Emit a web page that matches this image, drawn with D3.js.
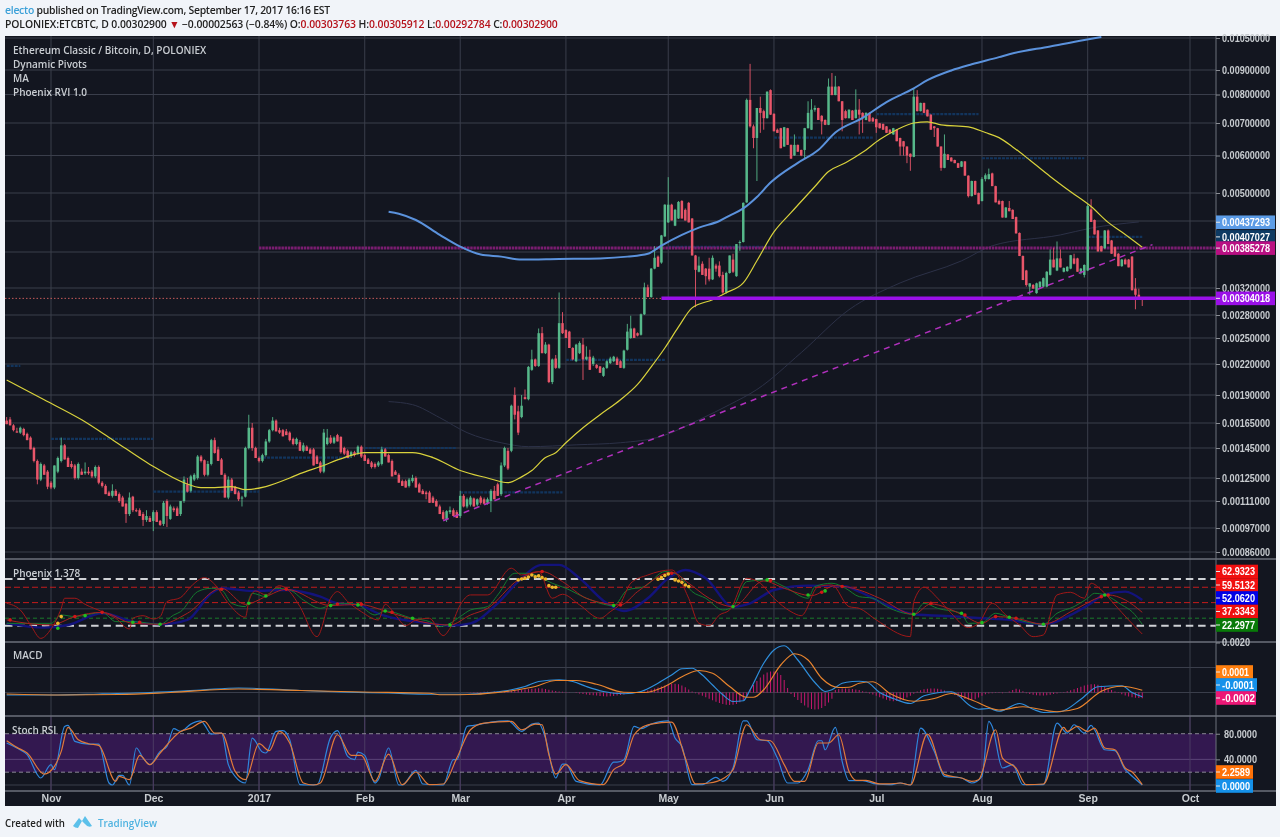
<!DOCTYPE html>
<html><head><meta charset="utf-8">
<script src="https://cdn.jsdelivr.net/npm/d3@7/dist/d3.min.js"></script>
<style>
html,body{margin:0;padding:0;background:#f1f4f9;overflow:hidden}
svg{display:block;filter:blur(0.35px)}
text{font-family:"Liberation Sans",Arial,sans-serif}
.ui{font-family:"Open Sans",sans-serif;font-weight:600}
</style></head><body><svg id="c" width="1280" height="837"></svg>
<script>
// ---------- DATA (prices in units of 0.00001 BTC; day numbers count from firstDay) ----------
const opens=[167,168,163,158,157,160,156,153,145,136,
124,133,129,122,119,129,136,147,138,134,
133,125,129,128,129,129,126,132,122,120,
116,114,117,115,113,109.5,104,113.5,106,106,
104,101,102,100.5,105,100.5,99,111,101.5,107,
107,104,111,121,117,124,125,139,136.5,127,
134,151,144,137,127,113,124,119.5,116,113,
113.5,145,161,145,138,136,140,150,159,167,
159,159,158,157,152,148,149.5,143,146,144,
144,139,135,129,148,153,149,155,153.6,145,
143,139.5,142,141,146,140,137,135,134,133,
134,144,140,136,129,127,123,123,120,123,
125,121,117,116,116,113,111,108,105,101.5,
105,106,105,103,114,108,109,112.5,109,113,
112,110,111,117,121,115,133,143,143,190,
175,170,188,186,214,225,218,256,232,242,
202,226,216,269,260,258,238,223,232,242,
225,228,220,219,217.5,208,216,221,223,226,
223,216,236,250,262,256,254,281,321,306,
350,370,360,408,437,474,430,445,482,463,
478,445,372,345,358,350,350,333,355,355,
340,313,343,365,338,395,397,479,780,689,
652,751,740,716,817,731,678,683,626,683,
631,600,631,616,616,683,678,745,751,724,
710,694,831,798,831,775,740,716,742,716,
745,734,710,734,716,713,699,697,689,678,
663,678,652,642,626,605,596,792,740,769,
745,728,689,683,626,565,603,594,587,578,
568,583,544,493,530,500,482,535,535,550,
517,482,482,447,467,463,448,415,371,347,
322,324.5,312,321,322,322,340,365,347,367,
345,346,350,367,367,345,340,347,464,442,
420,389,385,420,400,387,375,354,365,365,
370,319,309.5,303.763];
const highs=[170,170,164,161,162,161,157,154,146,137,
135,134,130,123,133,139,153,148,139,136,
134,135,131,135,132,130,133,133,123,121,
117,121,118,116,114,110,116,114,107,107,
105,106,103,106,106,101,111,112,109,108,
108,111,126,125,127,128,140,140,137,136,
152,153,146,138,128,126,125,120,117,114,
146,172,165,146,139,141,152,160,170,168,
161,160,160,158,153,153,151,149,147,145,
145,140,136,160,160,155,154,156,154,146,
144,143,143,147,147,141,138,136,135,136,
146,145,141,137,130,128,124,124,125,127,
126,122,118,117,117,114,112,109,106,106,
108,107,106,117,115,113,114,113,112.5,114,
113,113,118,120,122,135,146,145,181,197,
180,190,195,218,236,226,262,264,245,243,
226,230,313,284,261,259,239,243,246,250,
240,236,229,220,218,217,224,228,229,228,
224,236,268,279,263,257,282,328,325,351,
389,372,411,475,540,476,465,482,484,466,
480,446,373,370,362,351,368,372,358,362,
345,345,372,375,393,400,479,785,927,695,
751,792,745,812,820,732,682,684,687,684,
632,663,632,617,684,775,783,760,752,726,
712,864,887,875,833,776,745,746,744,820,
783,736,736,735,720,714,700,698,690,680,
684,679,653,643,627,606,824,817,770,770,
746,729,690,684,627,663,604,595,588,579,
584,584,545,531,531,501,540,550,563,552,
518,485,483,469,482,464,449,416,372,348,
327,326,328,330,336,346,383,386,398,383,
352,354,373,375,368,351,357,475,486,443,
421,390,421,422,401,388,376,366,367,366,
371,335,319,305.912];
const lows=[164,163,158,157,156,154,151,144,135,121,
123,127,118,118,118,128,135,137,132,131,
124,124,127,127,127,125,125,121,119,115,
114,113,114,110,108,99.5,103,105,105,103,
98,100,100,95.5,100,98,98,97.5,101,105,
103,103,110,116,116,123,124,135,126,126,
133,141,136,127,113,112,117,115,111,108,
113,144,143,138,135,135,139,149,158,158,
156,154,155,150,147,147,143,142,143,141,
133,134,128,128,147,148,148,150,141,140,
138,138,139,140,138,136,134,131,131,132,
133,139,135,126,127,122,120,119,119,122,
119,116,115,112,110,110,108,104,101,100,
104,103,102,102,107.5,107,108,108,108,109,
109,109,105,112,114,114,132,130,142,168,
155,169,186,185,213,217,217,232,231,201,
200,215,215,255,250,238,224,222,231,204,
224,214,218,215,211,207,215,220,222,219,
216,215,235,249,250,252,253,280,306,305,
349,353,358,407,436,441,429,444,445,441,
437,372,291,344,340,325,330,332,345,336,
311,311,342,343,337,380,396,478,685,621,
530,668,678,715,727,673,668,621,625,631,
590,599,610,598,591,682,677,738,710,663,
693,693,797,797,775,673,715,715,710,715,
663,668,709,705,704,668,682,678,668,667,
662,642,600,600,578,557,595,739,739,733,
722,678,655,626,557,564,587,583,578,565,
567,544,490,492,496,475,481,529,534,517,
479,474,447,446,460,444,414,371,332,322,
309.5,319,311,320,321,321,339,352,346,352,
344,345,349,357,345,341,336,346,438,412,
379,379,384,393,375,370,354,353,357,352,
316,288,302,292.784];
const closes=[164,163,159,157,161,155,151,144,136,124,
134,127,119.5,119,133,138,147,137,132,132,
125,134,127,129,128,126,132,122,120,115,
114,117,114,111,108,104,113,106,105.5,103,
101,103,100,105,100,98.5,110,103,108,106,
103,111,124,116.5,126,127,139,136,127,134,
151,141.5,136,127,113,124,117,115,112,113,
145,161,145,138,136,140,150,159,167,158,
157,154,155,151,148,152,143,147,143,141,
133,134,129,157,153,149,153,150,142,141,
138,142,140,146,139,136,134,132,132,135,
144,139,135,126,127,122,120,119,124,125,
119,116,115,115,110,110,108,104,101.5,105.5,
106,103,102,114,108,112,113,108,112,110,
109.5,112,117,112,114,133,145,131,180,172,
157,180,186,217,225,218,256,232,242,202,
225,216,269,256,250,238,225,242,244,225,
228,214,227,216,211,216,223,226,228,219,
216,235,258,262,250,253,281,321,306,350,
368,353,410,474,474,441,463,480,445,441,
437,372,348,355,340,338,333,368,350,338,
313,343,372,345,393,397,478,780,689,652,
751,734,716,811,728,673,668,621,686,631,
591,631,611,600,683,734,745,751,710,705,
694,831,798,831,775,710,716,745,710,745,
728,716,734,705,705,686,683,678,668,668,
683,642,626,626,600,596,792,740,769,734,
722,678,683,626,565,605,587,583,578,565,
583,544,493,530,496,475,535,545,548,517,
479,475,447,468,460,444,414,371,332,324.5,
327,319,327,329.5,335,345,365,352,367,352,
351,353,372.5,358,345,350,356,471,438,412,
379,379,420,393,375,370,354,365,357,352,
316.5,309.5,302.5,302.9];

const maYellowDays=[0,11,22,31,42,52,57,61,66,70,76,83,86,92,99,105,119,125,133,141,147,151,154,158,161,164,169,174,180,185,189,193,197,201,207,211,216,220,225,230,237,241,246,251,256,261,266,270,274,282,287,291,295,300,306,312,318,323,327,333];
const maYellow=[204,185.5,167.7,151.4,133.7,122,119,119,119.6,117.7,119.6,125,127.7,132.3,138.3,141.7,141.7,138.3,129.7,125,122,125.7,129.7,138.3,141.7,149,161,172,185.5,199.7,217,238,264,290,302,312.6,327.6,363,417,457,516,555,579,609,647,678,700,704,694,687,669,653,625,587,542,503,470,437,417,387];
const maBlueDays=[112,115,120,127,133,139,145,151,162,174,182,188,192,198,203,209,212,216,220,224,232,238,243,251,258,266,270,277,283,291,294,306,316,321];
const maBlue=[459,455,442,411,388,373.5,370,365,366,367,370,375,390,411,426,440,451,466,491,526,579,616,669,717,772,824,857,898,925,957.5,971,1008,1040,1055];
const maSlowDays=[112,119,127,135,145,153,167,180,192,203,212,220,233,247,262,280,289,309,318,332];
const maSlow=[183.8,181,169.5,157,149,146,147.4,149,154,167.7,181,195,232.7,287.4,327.6,362.8,389.7,411,425,438];

const trendDates=["2017-02-24","2017-09-20"];
const trendValues=[100.6,392];
const pivotStarts=["2016-10-19","2016-11-01","2016-12-01","2017-01-01","2017-02-01","2017-03-01","2017-04-01","2017-05-01","2017-06-01","2017-07-01","2017-08-01","2017-09-01"];
const pivotEnds=["2016-10-23","2016-12-01","2017-01-01","2017-01-28","2017-02-28","2017-03-31","2017-04-30","2017-05-31","2017-06-30","2017-07-31","2017-08-31","2017-09-17"];
const pivotValues=[218,152,116.5,138.3,145,116,224.6,387.6,653,730,592,407.027];
const supportValue=304.018, resistanceValue=385.278;
const supportStart="2017-04-29", resistanceStart="2017-01-01";

const priceTicks=[1050,900,800,700,600,500,440,378,320,280,250,220,190,165,145,125,111,97,86];
const hiddenPriceTicks=[440,378];
const monthTicks=["2016-11-01","2016-12-01","2017-01-01","2017-02-01","2017-03-01","2017-04-01","2017-05-01","2017-06-01","2017-07-01","2017-08-01","2017-09-01","2017-10-01"];
const monthLabels=["Nov","Dec","2017","Feb","Mar","Apr","May","Jun","Jul","Aug","Sep","Oct"];
const mainBadgeValues=[437.293,407.027,385.278,304.018];
const mainBadgeText=["0.00437293","0.00407027","0.00385278","0.00304018"];
const mainBadgeColor=["#5b9be6","#0d3a63","#b80f82","#9a10e8"];

const phoenixFastDays=[0,4,7,10,13,16,17,20,23,28,32,36,37,40,43,45,47,51,54,58,61,65,70,71,73,76,80,83,86,91,95,97,100,104,109,111,114,117,120,124,128,130,133,136,141,148,151,156,160,163,168,174,177,180,183,188,195,200,203,206,209,212,217,221,225,230,233,238,242,247,250,255,265,266,269,273,277,282,285,289,293,297,301,304,308,312,316,318,321,325,329,333];
const phoenixFast=[41.8,36,22.9,11.2,19.4,37.4,46.2,46.2,40.9,34.5,28.7,19.4,28.7,31,28.1,30.2,43.3,46.8,56.4,64.2,58.4,41.8,29.6,43.3,52.6,49.1,57.2,52,38.9,12.7,46.2,52,43.3,34.5,27.3,40.9,31.6,22.3,27.3,28.7,13.6,20,40.4,49.1,49.1,72.4,66.5,69.5,46.2,49.7,40.4,28.7,34.5,41.8,59.3,66.5,70.9,46.2,24.3,22.3,31.6,36,63.6,59.3,46.2,34.5,31,56.4,57.8,38.9,37.4,27.3,12.7,43.3,55.8,46.2,33.1,20.6,24.3,41.8,31.6,22.9,12.7,14.2,49.1,51.4,46.2,59.3,53.4,40.4,27.3,15];
const phoenixGreenDays=[0,6,13,16,20,28,32,37,45,49,51,56,60,63,66,70,72,76,79,83,87,92,95,99,103,108,111,119,124,127,130,133,136,141,144,149,153,157,160,164,170,178,182,187,193,197,201,205,210,213,217,223,228,235,237,242,246,250,254,258,266,269,273,280,282,286,290,294,304,308,313,317,319,322,327,330,333];
const phoenixGreen=[24.3,24.3,24.3,31.6,30.2,33.9,25.8,25.8,23.5,31.6,34.5,52,54.9,53.4,41.8,38.9,50.5,47.6,54.9,53.4,44.7,37.4,40.4,41.8,40.4,31.6,35.1,28.7,25.8,21.4,24.3,30.2,36,38.9,49.1,68,68,63.6,59.3,54.9,46.2,39.8,53.4,56.4,69.5,66.5,52,46.2,36,38.9,60.7,62.2,56.4,46.2,56.4,59.3,54.9,47.6,46.2,38.9,32.2,41.8,37.4,33.1,24.3,24.9,33.1,29.6,23.5,33.1,38.9,46.2,50.5,49.1,40.4,34.5,23.5];
const phoenixBlueDays=[0,11,18,28,37,45,53,60,63,72,82,92,97,103,110,124,130,136,144,150,157,162,168,176,181,188,194,199,205,213,218,225,235,246,250,258,266,279,286,294,304,313,318,322,328,333];
const phoenixBlue=[24.3,20.6,22.9,33.1,25.8,23.5,27.3,50.5,54.9,52.6,53.4,47.6,41.8,40.4,31.6,24.3,22.3,24.3,41.8,60.7,75.3,75.3,63.6,41.8,35.1,46.2,63.6,70.9,63.6,38.9,41.8,53.4,57.2,56.4,52,40.4,32.2,30.2,28.7,27.3,23.5,33.1,41.8,49.7,52,44.7];
const phoenixSlowDays=[0,6,13,20,28,37,45,53,63,70,76,82,95,103,113,124,130,136,141,150,157,163,170,180,185,195,200,206,213,222,228,236,243,250,256,266,271,280,286,290,296,304,313,321,323,328,333];
const phoenixSlow=[27.3,24.3,22.9,30.2,33.9,24.3,23.5,33.1,54.9,40.9,47.6,54,39.8,40.9,33.1,24.3,22.9,31.6,37.4,62.2,69.5,60.7,46.2,40.4,52,68.9,59.3,46.2,38.9,61.3,54.9,48.5,57.2,53.4,46.2,32.2,41.2,32.2,24.3,30.2,28.7,23.5,36,47.6,49.1,44.7,33.9];
const dotGreenDays=[15,23,37,45,71,76,95,103,111,119,130,178,213,223,235,240,266,280,286,294,304,322];
const dotGreen=[20,31,25.2,23.5,41.8,48.2,39.8,40.4,35.1,28.7,22.9,39.8,38.9,62.2,49.1,52.6,32.2,33.1,24.9,29.6,23.5,49.1];
const dotRedDays=[1,20,28,39,63,82,97,104,113,157,180,195,224,239,245,271,281,290,296,321,323];
const dotRed=[27.3,30.2,33.9,25.2,54,54,41.2,40.9,34,69.5,40.4,68,61.6,51.4,56.4,41.8,31.6,30.2,28.7,47.6,49.1];
const dotYellowDays=[15,16,150,151,152,153,154,155,156,157,158,159,160,161,191,192,193,194,196,197,198,199,200];
const dotYellow=[24.3,30.2,62.2,63,63.6,64.8,66.5,65,65.7,64.2,63,57.2,55.8,55.8,62.8,64.2,66,67.4,62.2,61.3,60.1,57.8,56.4];
const phoenixLevelsWhite=[63,22.3];
const phoenixLevelsRed=[55.8,42.4];
const phoenixLevelGreen=[28.8];
const phoenixGridLevel=[37];
const phoenixBadgeText=["62.9323","59.5132","52.0620","37.3343","22.2977"];
const phoenixBadgeColor=["#f00f0f","#f00f0f","#0000e6","#f00f0f","#087a08"];

// MACD values in units of 0.0001
const macdDays=[0,13,27,42,57,68,83,98,112,124,129,135,142,148,152,156,162,166,170,175,181,186,191,195,198,201,204,207,210,213,216,218,222,225,228,232,237,240,242,245,248,250,252,256,260,265,269,277,283,285,288,291,297,301,304,309,315,320,327,330,333];
const macd=[-1,-1,-.6,0,1,1.8,1,.2,-.2,-.7,-.7,-.7,0,1.1,2.4,4.4,5.1,4.4,2.4,.4,-.5,.4,3.7,7,9.5,9.7,7,3,-.9,-3.6,-3.3,1.1,11.7,17,18.7,13,4,.4,1.1,3.7,4.4,4.5,4.3,0,-2.4,-4.4,-1.3,.3,-5.7,-6.7,-6.4,-7.5,-4.4,-6.7,-8,-7.7,-2.7,2.3,2.7,0,-1.7];
const signalDays=[0,16,33,48,68,86,104,124,127,138,144,150,155,161,167,173,181,187,193,199,203,207,212,217,219,222,227,231,235,239,244,247,250,254,259,266,272,277,283,291,298,308,314,321,327,333];
const signal=[-.6,-1,-.8,0,1.4,.8,.2,-.3,-.9,-.7,0,1.1,2.4,4.8,4.8,3.3,.1,0,2.4,7,8.8,7.7,2.4,-1.9,-1.9,1.1,11,15.5,13,5.7,2,2.1,3.7,4.3,-.4,-3.5,-2.4,-.4,-3,-7,-5.7,-7.7,-6.4,.5,2.5,.9];
const histFirstDay=135;
const macdHist=[.1,.1,.2,.2,.2,.3,.3,.3,.4,.4,.5,.5,
.6,.7,.8,1,1.1,1.3,1.4,1.5,1.6,1.7,1.6,1.4,1.1,.8,.6,.4,.3,
.2,.1,0,-.2,-.4,-.6,-.8,
-1,-1.1,-1.2,-1.4,-1.5,-1.6,-1.5,-1.4,-1.2,-1,-.8,-.6,-.4,-.2,0,.2,
.4,.8,1.2,1.6,2,2.4,2.8,3.1,3.4,3.5,3.3,2.8,2.1,1.2,.4,
-.3,-.8,-1.3,-1.9,-2.5,-3.1,-3.7,-4.2,-4.6,-4.9,-5,-4.9,-4.6,-3.9,-3,-1.8,
1.2,3,4.6,6,7.2,8,8.4,8.4,8,7,5,1.8,
-.6,-1.8,-3,-4.2,-5.2,-6,-6.6,-6.8,-6.7,-6.2,-5.4,-4,-2.5,
1,1.4,1.6,1.6,1.5,1.4,1.2,1,.5,.3,
-.4,-.8,-1.3,-1.9,-2.4,-2.9,-3.3,-3.5,-3.4,-3.1,-2.6,-2,-1.3,-.5,
.4,.9,1.3,1.5,1.6,1.6,1.5,1.2,.8,.3,
-.4,-1,-1.6,-2.2,-2.6,-2.9,-3,-2.7,-2,-1.3,-.7,
-.4,-.3,-.2,-.2,-.3,-.1,.4,1,1.5,1.2,.5,
-.3,-.6,-.9,-1.1,-1.2,-1.2,-1.1,-.9,-.6,-.4,-.1,
.2,.5,.9,1.3,1.8,2.3,2.8,3.1,3.3,3.3,3.1,2.7,2.2,1.6,1,.4,
-.2,-.7,-1.2,-1.6,-1.9,-2.1,-2.2,-2.3];
const macdBadgeText=["0.0001","-0.0001","-0.0002"];
const macdBadgeColor=["#ff7f0e","#1591ea","#ec1776"];
const macdTickLabels=[20];

const stochKDays=[0,3,6,10,13,14,17,18,20,24,27,30,31,33,34,36,38,40,42,45,47,49,51,54,57,58,60,63,65,67,70,72,75,76,79,81,83,86,88,91,95,97,100,102,103,105,108,109,112,115,116,120,122,128,131,132,135,137,142,147,151,154,156,158,161,163,164,167,174,178,179,181,184,186,189,194,196,198,201,204,208,210,213,216,217,220,223,226,229,232,235,238,239,240,243,245,247,251,255,259,262,265,268,272,275,280,283,286,288,289,292,295,298,304,308,311,313,316,318,319,322,325,328,329,333];
const stochK=[65.5,57.7,47.3,10.9,31.7,23.9,91.4,93,68,63.9,63.9,3.1,0,15.1,15.1,0,57.7,42,31.7,52.5,60.3,87.8,83.6,95,100,94,79.5,81,31.7,13.5,3.1,73.2,51.4,49.9,83.6,84.7,70.6,.5,0,.5,74.3,84.7,44.7,39.5,51.4,46.2,3.1,8.3,57.7,0,0,22.9,1.6,0,39.5,39.5,91.4,93,98.2,100,83.6,95,96.6,73.2,10.9,32.7,32.7,5.7,0,35.8,35.8,39.5,91.4,88,95,100,73.2,60.3,.5,.5,11.9,5.7,26.5,100,100,70.6,69,42,3.1,3.1,23.9,69,69,55,89.9,36.9,6.8,6.8,1.6,.5,3.1,0,88.8,52.5,13.5,10.9,3.1,13.5,99.2,91.4,26.5,31.7,.5,.5,96.6,81,94,81,93,86.2,55,53.5,23.9,18.7,0];
const stochDDays=[0,3,6,11,14,16,18,21,24,27,32,33,36,39,42,45,51,54,58,61,63,67,70,74,77,80,83,87,90,92,97,101,104,108,112,116,120,124,128,132,136,140,148,151,155,157,159,161,164,168,175,178,181,184,186,189,195,199,202,206,210,213,217,221,224,228,231,234,238,241,244,247,249,252,256,259,262,265,270,275,280,283,285,290,292,296,299,304,310,311,314,317,319,322,325,328,330,333];
const stochD=[69,58.7,49.9,17.1,29.1,52.5,89.9,70.6,64.4,61.8,5.7,13.5,8.3,46.2,31.7,49.9,83.6,88.8,99.2,81,81,21.3,8.3,64.4,53.5,83.6,65.5,3.1,0,3.1,78.4,46.2,46.2,5.7,48.3,.5,20.3,.5,1.6,42,86.2,96.6,99.2,86.2,95,94,47.3,17.1,31.7,6.8,.5,23.9,34.3,78.4,88.8,95,98.2,42,1.6,3.1,9.9,23.9,94,70.6,69,31.7,5.7,5.7,65.5,65.5,78.4,21.3,7.3,7.3,1.6,1.6,3.1,0,79.5,16.1,10.9,5.7,8.3,86.2,42,26.5,.5,1.6,89.9,83.6,91.4,83.6,88.8,57.7,55,26.5,20.3,.5];
const stochLevels=[80,20];
const stochTicks=[80,40];
const stochBadgeText=["2.2589","0.0000"];
const stochBadgeColor=["#ff7208","#1591ea"];

// ---------- SCALES ----------
const LAYOUT={L:5,R:1216,OUT:1276,T:36,P1:559,P2:642,P3:716,B:791,XB:806};
const {L,R,OUT,T,P1,P2,P3,B,XB}=LAYOUT;
const parse=d3.timeParse("%Y-%m-%d");
const firstDay=parse("2016-10-19");
const x=d3.scaleTime().domain([parse("2016-11-01"),parse("2017-10-01")]).range([51,1190]);
const xd=i=>x(d3.timeDay.offset(firstDay,i));
const y=d3.scaleLog().domain(priceTicks).range([38,70,94.5,123,155.5,193,221,252,288,315,338,364,395,423,448,478,501,528,552]);
const yP=d3.scaleLinear().domain([0,100]).range([651.2,536.6]);
const yM=d3.scaleLinear().domain([0,10]).range([692.5,667.5]);
const yS=d3.scaleLinear().domain([0,100]).range([785,720.9]);

const svg=d3.select("#c");
svg.append("rect").attr("width",1280).attr("height",837).attr("fill","#f1f4f9");
svg.append("rect").attr("x",L).attr("y",T).attr("width",OUT-L).attr("height",XB-T).attr("fill","#131620");
const defs=svg.append("defs");
const clip=(id,a,b)=>defs.append("clipPath").attr("id",id).append("rect").attr("x",L).attr("y",a).attr("width",R-L).attr("height",b-a);
clip("cm",T,P1);clip("cp",P1,P2);clip("cd",P2,P3);clip("cs",P3,B);

// grid
const grid=svg.append("g").attr("stroke","#3a3e4b").attr("stroke-width",1);
const hl=(v)=>grid.append("line").attr("x1",L).attr("x2",R).attr("y1",v).attr("y2",v);
priceTicks.forEach(p=>hl(y(p)));
phoenixGridLevel.forEach(v=>hl(yP(v)));
[10,0].forEach(v=>hl(yM(v)));
hl(yS(0));
grid.selectAll("line.v").data(monthTicks).join("line").attr("class","v")
 .attr("x1",d=>x(parse(d))).attr("x2",d=>x(parse(d))).attr("y1",T).attr("y2",B);

// ---------- MAIN PANE ----------
const m=svg.append("g").attr("clip-path","url(#cm)");
const lin=(sy,c)=>d3.line().x(d=>xd(d[0])).y(d=>sy(d[1])).curve(c||d3.curveMonotoneX);
const pair=(a,b)=>a.map((d,i)=>[d,b[i]]).filter(d=>d[1]!==undefined);
m.append("path").attr("d",lin(y)(pair(maSlowDays,maSlow))).attr("fill","none").attr("stroke","#2c3147").attr("stroke-width",1);
// pivots
m.selectAll("line.piv").data(pivotValues).join("line").attr("class","piv")
 .attr("x1",(d,i)=>x(parse(pivotStarts[i]))).attr("x2",(d,i)=>x(parse(pivotEnds[i])))
 .attr("y1",d=>y(d)).attr("y2",d=>y(d)).attr("stroke","#12345c").attr("stroke-width",2.2).attr("stroke-dasharray","3 1");
// resistance
m.append("line").attr("x1",x(parse(resistanceStart))).attr("x2",R).attr("y1",y(resistanceValue)).attr("y2",y(resistanceValue))
 .attr("stroke","#7a1d70").attr("stroke-width",3).attr("stroke-dasharray","2.5 .7");
// price line
m.append("line").attr("x1",L).attr("x2",x(parse(supportStart))).attr("y1",y(supportValue)).attr("y2",y(supportValue))
 .attr("stroke","#c75a5a").attr("stroke-width",1).attr("stroke-dasharray","1.5 2");
const candle=m.append("g");
const idx=d3.range(closes.length);
const col=i=>closes[i]>=opens[i]?"#56b88a":"#e9566a";
candle.selectAll("line").data(idx).join("line").attr("x1",xd).attr("x2",xd).attr("y1",i=>y(highs[i])).attr("y2",i=>y(lows[i])).attr("stroke",col).attr("stroke-width",1).attr("opacity",.9);
candle.selectAll("rect").data(idx).join("rect").attr("x",i=>xd(i)-1.25).attr("width",2.5)
 .attr("y",i=>Math.min(y(opens[i]),y(closes[i]))).attr("height",i=>Math.max(1,Math.abs(y(opens[i])-y(closes[i])))).attr("fill",col);
m.append("path").attr("d",lin(y)(pair(maBlueDays,maBlue))).attr("fill","none").attr("stroke","#5b92dc").attr("stroke-width",2);
m.append("path").attr("d",lin(y)(pair(maYellowDays,maYellow))).attr("fill","none").attr("stroke","#d9d23c").attr("stroke-width",1.2);
m.append("line").attr("x1",x(parse(trendDates[0]))).attr("x2",x(parse(trendDates[1]))).attr("y1",y(trendValues[0])).attr("y2",y(trendValues[1]))
 .attr("stroke","#b030bc").attr("stroke-width",1.5).attr("stroke-dasharray","6 5");
m.append("line").attr("x1",x(parse(supportStart))).attr("x2",R).attr("y1",y(supportValue)).attr("y2",y(supportValue)).attr("stroke","#9a10e8").attr("stroke-width",3.5);

// ---------- PHOENIX ----------
const p=svg.append("g").attr("clip-path","url(#cp)");
phoenixLevelsWhite.forEach(v=>p.append("line").attr("x1",L).attr("x2",R).attr("y1",yP(v)).attr("y2",yP(v)).attr("stroke","#cfd1d5").attr("stroke-width",2).attr("stroke-dasharray","7.5 4.8"));
phoenixLevelsRed.forEach(v=>p.append("line").attr("x1",L).attr("x2",R).attr("y1",yP(v)).attr("y2",yP(v)).attr("stroke","#c41c1c").attr("stroke-width",1).attr("stroke-dasharray","6 3"));
phoenixLevelGreen.forEach(v=>p.append("line").attr("x1",L).attr("x2",R).attr("y1",yP(v)).attr("y2",yP(v)).attr("stroke","#1b7a2b").attr("stroke-width",1).attr("stroke-dasharray","4 3"));
const pl=(a,b,c,w)=>p.append("path").attr("d",lin(yP)(pair(a,b))).attr("fill","none").attr("stroke",c).attr("stroke-width",w);
pl(phoenixBlueDays,phoenixBlue,"#13137c",2.4);
pl(phoenixGreenDays,phoenixGreen,"#147a2e",1);
pl(phoenixSlowDays,phoenixSlow,"#a81f1f",1);
pl(phoenixFastDays,phoenixFast,"#a01818",1);
const dots=(a,b,c)=>p.append("g").selectAll("circle").data(a).join("circle").attr("cx",d=>xd(d)).attr("cy",(d,i)=>yP(b[i])).attr("r",1.8).attr("fill",c);
dots(dotRedDays,dotRed,"#d01818");
dots(dotGreenDays,dotGreen,"#20c020");
dots(dotYellowDays,dotYellow,"#eeb52a");

// ---------- MACD ----------
const d=svg.append("g").attr("clip-path","url(#cd)");
d.selectAll("line").data(macdHist).join("line").attr("x1",(v,i)=>xd(histFirstDay+i)).attr("x2",(v,i)=>xd(histFirstDay+i))
 .attr("y1",yM(0)).attr("y2",v=>yM(v)).attr("stroke","#c7186f").attr("stroke-width",1);
d.append("path").attr("d",lin(yM)(pair(macdDays,macd))).attr("fill","none").attr("stroke","#2f8fdc").attr("stroke-width",1.2);
d.append("path").attr("d",lin(yM)(pair(signalDays,signal))).attr("fill","none").attr("stroke","#e8842e").attr("stroke-width",1.2);

// ---------- STOCH ----------
const s=svg.append("g").attr("clip-path","url(#cs)");
s.append("rect").attr("x",L).attr("width",R-L).attr("y",yS(stochLevels[0])).attr("height",yS(stochLevels[1])-yS(stochLevels[0])).attr("fill","#331850");
s.append("line").attr("x1",L).attr("x2",R).attr("y1",yS(40)).attr("y2",yS(40)).attr("stroke","#5b4478");
s.selectAll("line.vv").data(monthTicks).join("line").attr("class","vv").attr("x1",k=>x(parse(k))).attr("x2",k=>x(parse(k))).attr("y1",T).attr("y2",B).attr("stroke","#4b3b63");
stochLevels.forEach(v=>s.append("line").attr("x1",L).attr("x2",R).attr("y1",yS(v)).attr("y2",yS(v)).attr("stroke","#8a8894").attr("stroke-dasharray","4 3"));
s.append("path").attr("d",lin(yS)(pair(stochKDays,stochK))).attr("fill","none").attr("stroke","#2f86dc").attr("stroke-width",1.2);
s.append("path").attr("d",lin(yS)(pair(stochDDays,stochD))).attr("fill","none").attr("stroke","#e07a3a").attr("stroke-width",1.2);

// ---------- FRAME ----------
const fr=svg.append("g").attr("stroke","#6d717b").attr("stroke-width",1.6);
[P1,P2,P3,B].forEach(v=>fr.append("line").attr("x1",L).attr("x2",OUT).attr("y1",v).attr("y2",v));
fr.append("line").attr("x1",R).attr("x2",R).attr("y1",T).attr("y2",B).attr("stroke-width",1);

// ---------- AXES ----------
const axisText="#c8ccd0";
function styleAxis(g,len){
 g.select(".domain").remove();
 g.selectAll("line").attr("stroke","#8a8d94");
 g.selectAll("text").attr("fill",axisText).attr("font-size",10.5).attr("font-weight","bold");
 if(len) g.selectAll("text").attr("textLength",len).attr("lengthAdjust","spacingAndGlyphs");
}
const axMain=svg.append("g").attr("transform",`translate(${R},0)`).call(
 d3.axisRight(y).tickValues(priceTicks.filter(v=>!hiddenPriceTicks.includes(v))).tickSize(4).tickPadding(2).tickFormat(v=>(v/1e5).toFixed(8)));
styleAxis(axMain,48);
const axMacd=svg.append("g").attr("transform",`translate(${R},0)`).call(
 d3.axisRight(yM).tickValues(macdTickLabels).tickSize(4).tickPadding(2).tickFormat(v=>(v/1e4).toFixed(4)));
styleAxis(axMacd,28);
const axS=svg.append("g").attr("transform",`translate(${R},0)`).call(
 d3.axisRight(yS).tickValues(stochTicks).tickSize(4).tickPadding(4).tickFormat(v=>v.toFixed(4)));
styleAxis(axS,33);
const axX=svg.append("g").attr("transform",`translate(0,${B})`).call(
 d3.axisBottom(x).tickValues(monthTicks.map(parse)).tickSize(0).tickPadding(4).tickFormat((v,i)=>monthLabels[i]));
axX.select(".domain").remove();
axX.selectAll("text").attr("fill",axisText).attr("font-size",10.5).attr("font-weight","bold");

// ---------- BADGES ----------
function badge(cy,txt,bg,w,len){
 const g=svg.append("g");
 g.append("rect").attr("x",R).attr("y",cy-6.8).attr("width",w).attr("height",13.6).attr("fill",bg);
 g.append("line").attr("x1",R).attr("x2",R+4).attr("y1",cy).attr("y2",cy).attr("stroke","#e8e8e8");
 g.append("text").attr("x",R+6).attr("y",cy+3.9).attr("fill","#fff").attr("font-size",11).attr("font-weight","bold")
  .attr("textLength",len).attr("lengthAdjust","spacingAndGlyphs").text(txt);
}
mainBadgeValues.forEach((v,i)=>badge(y(v),mainBadgeText[i],mainBadgeColor[i],59,48));
[571.5,585,598,611.5,625].forEach((cy,i)=>badge(cy,phoenixBadgeText[i],phoenixBadgeColor[i],42,33));
[672,685,698].forEach((cy,i)=>badge(cy,macdBadgeText[i],macdBadgeColor[i],[37,41,40][i],[27,32,33][i]));
[772,786].forEach((cy,i)=>badge(cy,stochBadgeText[i],stochBadgeColor[i],37,28));

// ---------- TEXT ----------
const label=(tx,ty,t)=>svg.append("text").attr("class","ui").attr("x",tx).attr("y",ty).attr("font-size",10).attr("fill","#c9cdd2").text(t);
["Ethereum Classic / Bitcoin, D, POLONIEX","Dynamic Pivots","MA","Phoenix RVI 1.0"].forEach((t,i)=>label(13,54+i*14,t));
label(13,577,"Phoenix 1.378");
label(13,659,"MACD");
label(12,734,"Stoch RSI");

const h1=svg.append("text").attr("class","ui").attr("x",5).attr("y",14).attr("font-size",10.4).attr("letter-spacing",-0.25).attr("fill","#222");
h1.append("tspan").attr("fill","#3aa0d8").text("electo");
h1.append("tspan").text(" published on TradingView.com, September 17, 2017 16:16 EST");
const h2=svg.append("text").attr("class","ui").attr("x",5).attr("y",28).attr("font-size",10.4).attr("letter-spacing",-0.1).attr("fill","#222");
const RED="#b5121b";
[["POLONIEX:ETCBTC, D  0.00302900 "],["▼",RED],[" −0.00002563 (−0.84%) O:"],["0.00303763",RED],[" H:"],["0.00305912",RED],[" L:"],["0.00292784",RED],[" C:"],["0.00302900",RED]]
 .forEach(a=>{const ts=h2.append("tspan").text(a[0]); if(a[1]) ts.attr("fill",a[1]);});

svg.append("text").attr("class","ui").attr("x",5).attr("y",827).attr("font-size",11).attr("fill","#222").attr("textLength",60).attr("lengthAdjust","spacingAndGlyphs").text("Created with");
svg.append("path").attr("d","M73 826 L79 818 L82 821 L85 816 L92 826 Q88 828 85 824 L82 821 L78 828 Q75 828 73 826Z").attr("fill","#5cc0ea");
svg.append("text").attr("class","ui").attr("x",98).attr("y",827).attr("font-size",11.5).attr("fill","#4fb3e0").attr("textLength",59).attr("lengthAdjust","spacingAndGlyphs").text("TradingView");
</script></body></html>
